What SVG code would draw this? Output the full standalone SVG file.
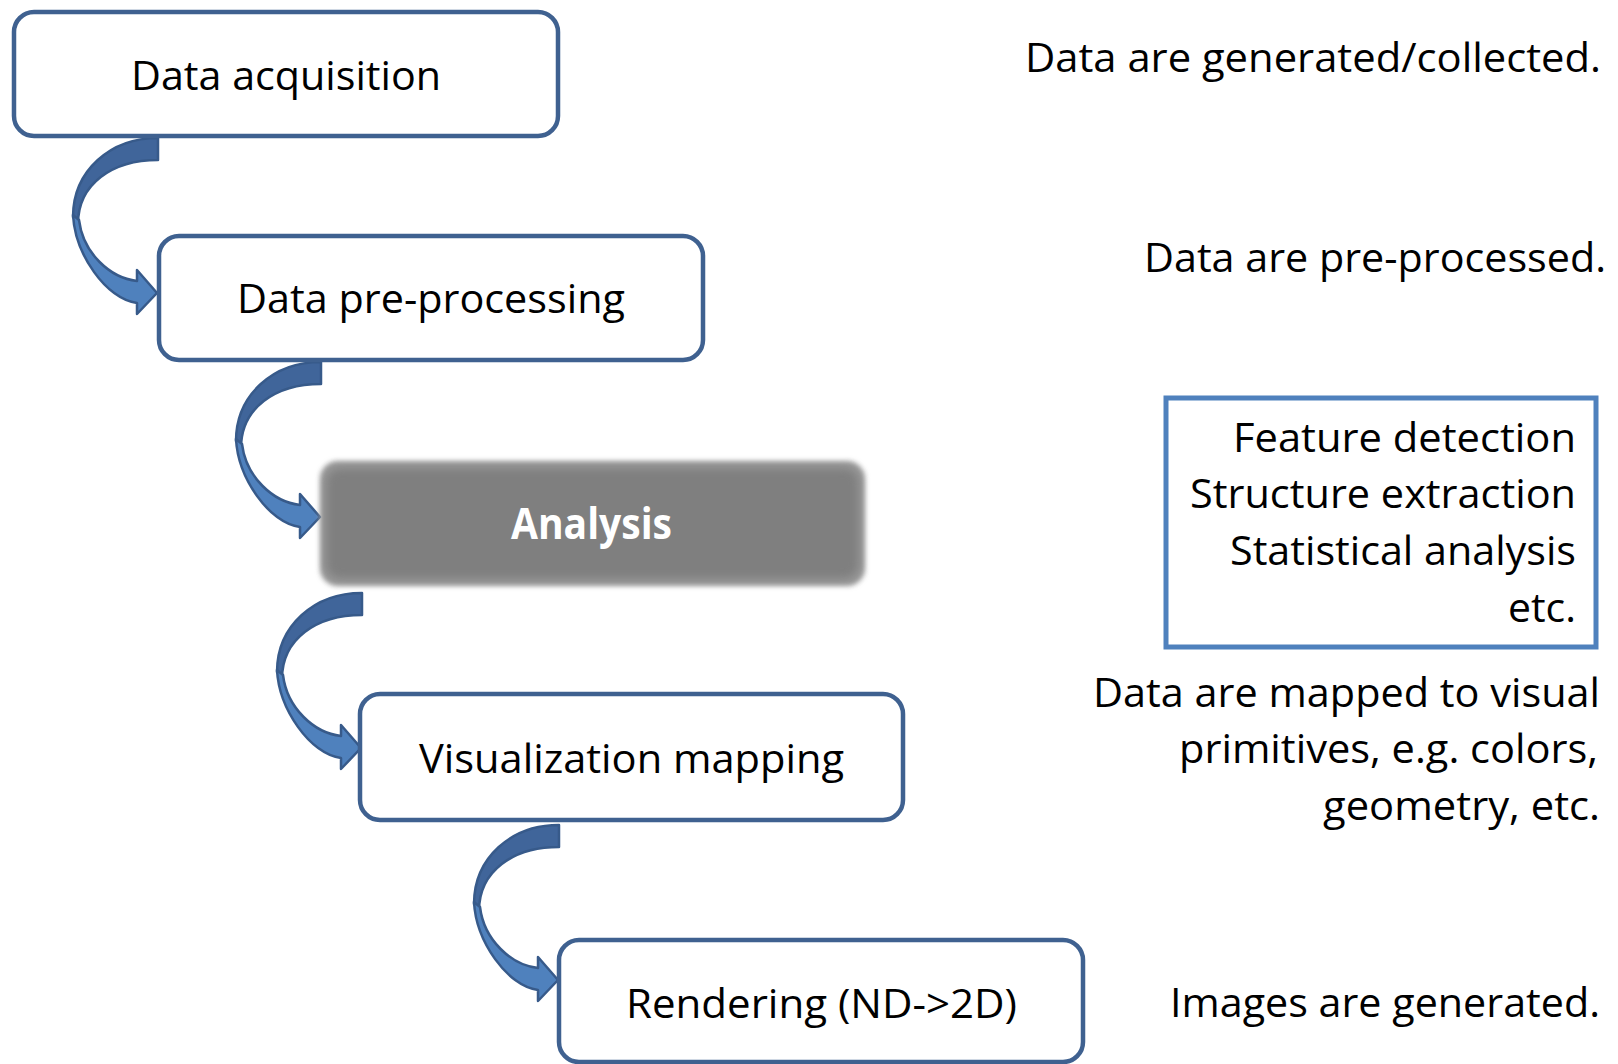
<svg xmlns="http://www.w3.org/2000/svg" xmlns:xlink="http://www.w3.org/1999/xlink" width="1618" height="1064" viewBox="0 0 1618 1064">
<style>
.box{fill:#ffffff;stroke:#3f6190;stroke-width:4.5}
.t{font-family:"Open Sans","Noto Sans","Liberation Sans",sans-serif;font-size:41px;fill:#000000}
.tb{font-family:"Open Sans","Noto Sans","Liberation Sans",sans-serif;font-size:43px;font-weight:700;fill:#ffffff}
.dark{fill:#40659a;stroke:#375a8a;stroke-width:2.5;stroke-linejoin:round}
.light{fill:#4f81bd;stroke:#375a8a;stroke-width:2.5;stroke-linejoin:round}
</style>
<defs>
<filter id="soft" x="-5%" y="-10%" width="110%" height="120%">
<feGaussianBlur stdDeviation="2.5"/>
</filter>
<filter id="soft2" x="-5%" y="-10%" width="110%" height="120%">
<feGaussianBlur stdDeviation="5"/>
</filter>
<g id="curvedArrow">
<path class="dark" d="M0,0 C-48,0 -85,33 -85,79 L-80,86 C-80,46 -46,22 0,22 Z"/>
<path class="light" d="M-85,77 C-83,116 -52,161 -21,165 L-21,176 L-1,155 L-21,132 L-21,143 C-48,140 -75,115 -79,82 Z"/>
</g>
</defs>
<rect width="1618" height="1064" fill="#ffffff"/>

<g id="connectors">
<use xlink:href="#curvedArrow" x="158" y="138"/>
<use xlink:href="#curvedArrow" x="321" y="362"/>
<use xlink:href="#curvedArrow" x="362" y="593"/>
<use xlink:href="#curvedArrow" x="559" y="825"/>
</g>

<g id="node-acquisition">
<rect class="box" x="14" y="12" width="544" height="124" rx="20"/>
<text class="t" x="131" y="90" textLength="310" lengthAdjust="spacingAndGlyphs">Data acquisition</text>
</g>

<g id="node-preprocessing">
<rect class="box" x="159" y="236" width="544" height="124" rx="20"/>
<text class="t" x="237" y="313" textLength="388" lengthAdjust="spacingAndGlyphs">Data pre-processing</text>
</g>

<g id="node-analysis">
<rect x="320" y="461" width="545" height="125" rx="18" fill="#9a9a9a" filter="url(#soft)"/>
<rect x="326" y="468" width="533" height="111" rx="14" fill="#7f7f7f" filter="url(#soft2)"/>
<text class="tb" x="511" y="539" textLength="161" lengthAdjust="spacingAndGlyphs">Analysis</text>
</g>

<g id="node-mapping">
<rect class="box" x="360" y="694" width="543" height="126" rx="20"/>
<text class="t" x="419" y="773" textLength="425" lengthAdjust="spacingAndGlyphs">Visualization mapping</text>
</g>

<g id="node-rendering">
<rect class="box" x="559" y="940" width="524" height="122" rx="20"/>
<text class="t" x="626" y="1018" textLength="391" lengthAdjust="spacingAndGlyphs">Rendering (ND-&gt;2D)</text>
</g>

<g id="desc-acquisition">
<text class="t" x="1025" y="72" textLength="576" lengthAdjust="spacingAndGlyphs">Data are generated/collected.</text>
</g>

<g id="desc-preprocessing">
<text class="t" x="1144" y="272" textLength="462" lengthAdjust="spacingAndGlyphs">Data are pre-processed.</text>
</g>

<g id="desc-analysis">
<rect x="1166" y="398" width="430" height="249" fill="#ffffff" stroke="#4f81bd" stroke-width="5"/>
<text class="t" x="1233" y="452" textLength="343" lengthAdjust="spacingAndGlyphs">Feature detection</text>
<text class="t" x="1190" y="508" textLength="386" lengthAdjust="spacingAndGlyphs">Structure extraction</text>
<text class="t" x="1230" y="565" textLength="346" lengthAdjust="spacingAndGlyphs">Statistical analysis</text>
<text class="t" x="1508" y="622" textLength="68" lengthAdjust="spacingAndGlyphs">etc.</text>
</g>

<g id="desc-mapping">
<text class="t" x="1093" y="707" textLength="507" lengthAdjust="spacingAndGlyphs">Data are mapped to visual</text>
<text class="t" x="1179" y="763" textLength="419" lengthAdjust="spacingAndGlyphs">primitives, e.g. colors,</text>
<text class="t" x="1323" y="820" textLength="277" lengthAdjust="spacingAndGlyphs">geometry, etc.</text>
</g>

<g id="desc-rendering">
<text class="t" x="1170" y="1017" textLength="430" lengthAdjust="spacingAndGlyphs">Images are generated.</text>
</g>
</svg>
